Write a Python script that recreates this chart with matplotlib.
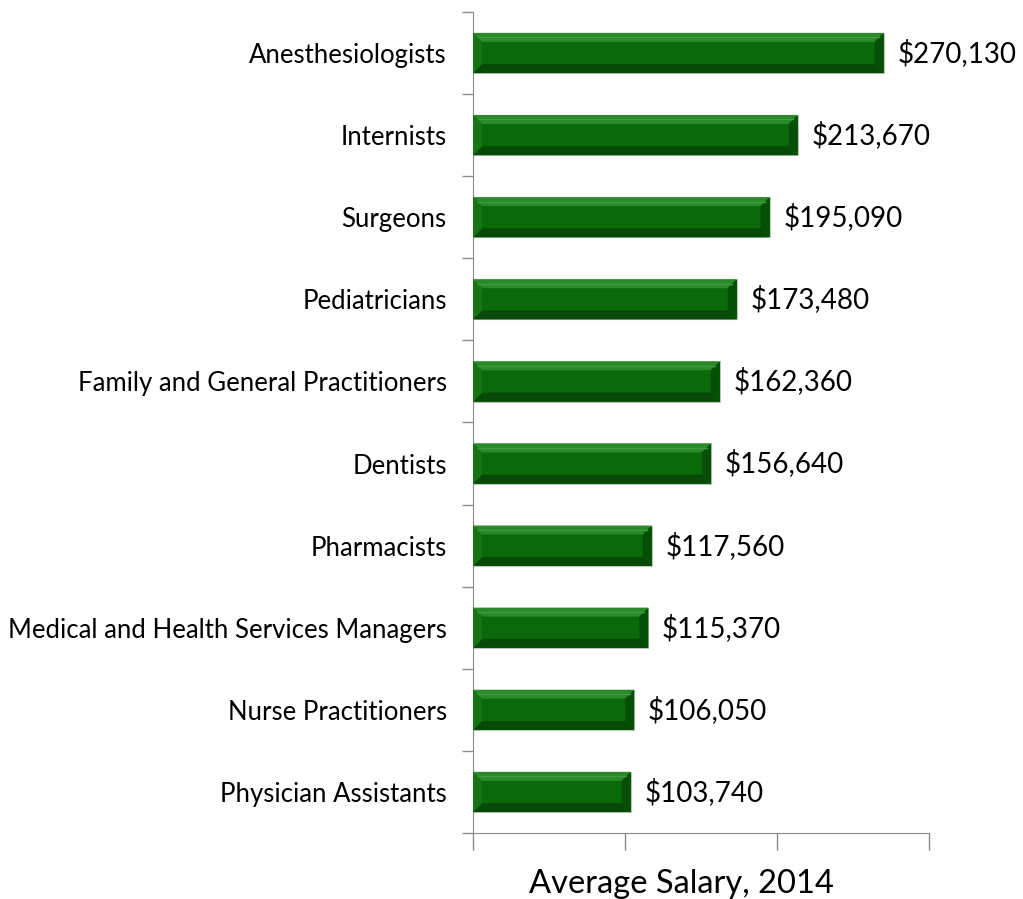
import numpy as np
import matplotlib.pyplot as plt
from matplotlib.patches import Polygon

jobs = ['Anesthesiologists', 'Internists', 'Surgeons', 'Pediatricians',
        'Family and General Practitioners', 'Dentists', 'Pharmacists',
        'Medical and Health Services Managers', 'Nurse Practitioners',
        'Physician Assistants']
salary = [270130, 213670, 195090, 173480, 162360, 156640, 117560, 115370,
          106050, 103740]
xticks = [0, 100000, 200000, 300000]

plt.rcParams['font.family'] = ['Lato', 'DejaVu Sans']

fig = plt.figure(figsize=(10.23, 8.99), dpi=100)
ax = fig.add_axes([0.4624, 0.0734, 0.4457, 0.9133])

y = np.arange(len(jobs))[::-1]
h = 0.49
ax.barh(y, salary, height=h, color='#0a6a0a', edgecolor='#b8c8b8', linewidth=0.8, zorder=2)

ax.set_xlim(0, 300000)
ax.set_ylim(-0.5, len(jobs) - 0.5)

# bevel, sized in pixels
bw = 9 / 456 * 300000
bh = 9 / 82.1
for yi, v in zip(y, salary):
    y0, y1 = yi - h / 2, yi + h / 2
    top = Polygon([(0, y1), (v, y1), (v - bw, y1 - bh), (bw, y1 - bh)],
                  closed=True, fc='#2a8a2a', ec='none', zorder=3)
    bot = Polygon([(0, y0), (v, y0), (v - bw, y0 + bh), (bw, y0 + bh)],
                  closed=True, fc='#074a07', ec='none', zorder=3)
    lft = Polygon([(0, y0), (0, y1), (bw, y1 - bh), (bw, y0 + bh)],
                  closed=True, fc='#157515', ec='none', zorder=3)
    rgt = Polygon([(v, y0), (v, y1), (v - bw, y1 - bh), (v - bw, y0 + bh)],
                  closed=True, fc='#064f06', ec='none', zorder=3)
    for p in (top, bot, lft, rgt):
        ax.add_patch(p)
    # soft highlight in the top bevel
    ax.plot([bw * 0.5, v - bw * 0.5], [y1 - bh * 0.5] * 2, color='#3c9c3c', lw=1.0, zorder=4)
    ax.text(v + 9000, yi, '${:,}'.format(v), va='center', ha='left', fontsize=20, color='black')

ax.set_yticks(y)
ax.set_yticklabels(jobs, fontsize=18.5)
ax.set_yticks(np.arange(-0.5, len(jobs)), minor=True)
ax.tick_params(axis='y', which='major', length=0, pad=19)
ax.tick_params(axis='y', which='minor', length=8, color='#8c8c8c', width=1)

ax.set_xticks(xticks)
ax.set_xticklabels([])
ax.tick_params(axis='x', length=12, color='#8c8c8c', width=1)
ax.set_xlabel('Average Salary, 2014', fontsize=23.5)
ax.xaxis.set_label_coords(0.458, -0.044)

for s in ['top', 'right']:
    ax.spines[s].set_visible(False)
for s in ['left', 'bottom']:
    ax.spines[s].set_color('#8c8c8c')

fig.savefig('out.png', dpi=100)
